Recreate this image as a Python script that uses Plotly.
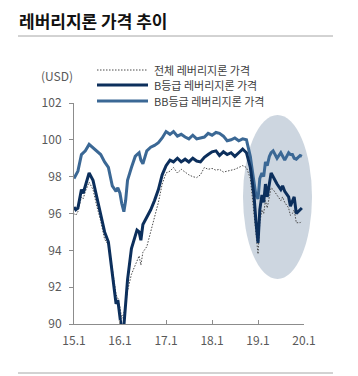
import plotly.graph_objects as go

# month offsets from 2015-01 (0.5 = mid-month)
months = [0, 0.5, 1, 2, 2.5, 3, 4, 5, 6, 7, 8, 9, 10, 11, 11.5, 12, 12.5, 13, 13.5,
          14, 15, 16, 16.5, 17, 17.5] + list(range(18, 47)) + \
         [46.5, 47, 47.5, 48, 48.5, 49, 49.5, 50, 50.5, 51, 51.5, 52, 53, 54, 54.5,
          55, 56, 56.5, 57, 57.5, 58, 59, 59.5]
months = sorted(set(months))

def to_date(m):
    y = 2015 + int(m) // 12
    mo = int(m) % 12 + 1
    d = 15 if (m - int(m)) > 0 else 1
    return f"{y}-{mo:02d}-{d:02d}"

dates = [to_date(m) for m in months]

bb_price = [97.9, 98.1, 98.3, 99.2, 99.3, 99.4, 99.75, 99.55, 99.4, 99.2, 98.8, 98.5,
            97.5, 97.2, 97.4, 97.1, 96.55, 96.1, 96.7, 97.8, 98.5, 99.1, 99.2, 99.3, 98.9,
            98.7, 99.4, 99.6, 99.7, 99.85, 100.1, 100.45, 100.3, 100.45, 100.2, 100.3,
            100.15, 100.05, 100.25, 100.05, 100.1, 100.15, 100.35, 100.25, 100.4, 100.35,
            100.2, 99.95, 100.0, 100.1, 99.95, 100.05, 100.0, 99.1,
            98.4, 97.6, 97.0, 96.8, 97.9, 98.2, 98.0, 98.8, 98.6, 99.1, 99.3, 99.4,
            99.0, 99.3, 99.1, 98.9, 99.3, 99.2, 99.2, 99.0, 98.95, 99.15, 99.1]

b_price = [96.35, 96.2, 96.3, 97.3, 97.1, 97.5, 98.2, 97.8, 96.85, 95.9, 95.0, 94.45,
           92.9, 91.1, 91.3, 90.4, 89.6, 89.9, 91.0, 92.4, 94.1, 94.8, 95.1, 95.0, 94.55,
           95.4, 95.8, 96.2, 96.7, 97.3, 98.1, 98.6, 98.9, 98.8, 99.0, 98.8,
           98.95, 98.8, 99.0, 98.85, 98.8, 99.05, 99.2, 99.35, 99.4, 99.15,
           99.35, 99.2, 99.3, 99.1, 99.3, 99.5, 99.3, 98.5,
           97.8, 96.9, 95.6, 94.4, 96.2, 97.0, 96.6, 97.6, 96.9, 97.6, 98.2, 98.0,
           97.6, 97.3, 97.5, 97.2, 96.9, 96.4, 96.7, 96.9, 96.0, 96.2, 96.3]

all_price = [96.0, 95.9, 96.1, 96.9, 96.8, 97.2, 97.7, 97.3, 96.4, 95.6, 94.6, 94.3,
             93.0, 91.6, 91.4, 90.9, 90.3, 90.6, 91.1, 91.8, 92.7, 93.2, 93.5, 93.7, 93.2,
             93.9, 94.2, 95.0, 95.8, 96.6, 97.6, 98.2, 98.3, 98.5, 98.2, 98.4,
             98.25, 98.1, 98.0, 97.95, 98.1, 98.5, 98.4, 98.45, 98.35, 98.4,
             98.25, 98.3, 98.35, 98.4, 98.5, 98.6, 98.5, 97.9,
             97.0, 96.0, 94.8, 93.8, 95.5, 96.2, 96.0, 96.7, 96.3, 97.0, 97.4, 97.3,
             97.0, 96.7, 96.9, 96.6, 96.3, 95.9, 96.0, 96.2, 95.5, 95.5, 95.6]

tick_vals = ["2015-01-01", "2016-01-01", "2017-01-01", "2018-01-01", "2019-01-01", "2020-01-01"]
tick_text = ["15.1", "16.1", "17.1", "18.1", "19.1", "20.1"]
y_ticks = [90, 92, 94, 96, 98, 100, 102]

series_names = ["전체 레버리지론 가격", "B등급 레버리지론 가격", "BB등급 레버리지론 가격"]
title_text = "레버리지론 가격 추이"
unit_text = "(USD)"

FONT = "Noto Sans CJK KR"
C_ALL = "#4a4a4a"
C_B = "#0c2f5c"
C_BB = "#3b6895"
DOT = "1.5px,1.5px"

fig = go.Figure()
fig.add_trace(go.Scatter(x=dates, y=all_price, mode="lines", name=series_names[0],
                         line=dict(color=C_ALL, width=1, dash=DOT)))
fig.add_trace(go.Scatter(x=dates, y=bb_price, mode="lines", name=series_names[2],
                         line=dict(color=C_BB, width=3)))
fig.add_trace(go.Scatter(x=dates, y=b_price, mode="lines", name=series_names[1],
                         line=dict(color=C_B, width=3)))

# page body has an 8px margin: figure sits at (8, 8) in the window
OFF = 8
L, R, T, B = 74, 304, 103, 324      # plot area in window pixels
W, H = 358 - OFF, 376 - OFF

def px(xp):
    return (xp - L) / (R - L)
def py(yp):
    return (B - yp) / (B - T)

shapes = [
    dict(type="circle", xref="paper", yref="paper", x0=px(243), x1=px(312),
         y0=py(279), y1=py(115), fillcolor="#cdd6e0", line=dict(width=0), layer="below"),
    dict(type="line", xref="paper", yref="paper", x0=px(18), x1=px(333),
         y0=py(36), y1=py(36), line=dict(color="#a6a6a6", width=1)),
    dict(type="line", xref="paper", yref="paper", x0=px(18), x1=px(333),
         y0=py(373), y1=py(373), line=dict(color="#a6a6a6", width=1)),
]
legend_y = [70, 85, 101]
legend_styles = [dict(color=C_ALL, width=1, dash=DOT),
                 dict(color=C_B, width=3),
                 dict(color=C_BB, width=3)]
annotations = [
    dict(text=title_text, xref="paper", yref="paper", x=px(17), y=py(20.5),
         xanchor="left", yanchor="middle", showarrow=False,
         font=dict(family=FONT, size=17, color="#111111", weight="bold")),
    dict(text=unit_text, xref="paper", yref="paper", x=px(57), y=py(75),
         xanchor="center", yanchor="middle", showarrow=False,
         font=dict(family=FONT, size=12, color="#595959")),
]
for yy, st, nm in zip(legend_y, legend_styles, series_names):
    shapes.append(dict(type="line", xref="paper", yref="paper", x0=px(97), x1=px(148),
                       y0=py(yy), y1=py(yy), line=st))
    annotations.append(dict(text=nm, xref="paper", yref="paper", x=px(152), y=py(yy),
                            xanchor="left", yanchor="middle", showarrow=False,
                            font=dict(family=FONT, size=11, color="#404040")))

fig.update_layout(
    width=W, height=H,
    margin=dict(l=L - OFF, r=W - (R - OFF), t=T - OFF, b=H - (B - OFF), pad=0),
    paper_bgcolor="white", plot_bgcolor="white",
    showlegend=False,
    shapes=shapes, annotations=annotations,
    font=dict(family=FONT, size=11, color="#595959"),
    xaxis=dict(type="date", range=["2015-01-01", "2020-01-01"],
               tickvals=tick_vals, ticktext=tick_text,
               showgrid=False, zeroline=False, showline=True, linecolor="#8c8c8c",
               linewidth=1, ticks="inside", ticklen=4, tickcolor="#8c8c8c",
               ticklabelstandoff=6,
               tickfont=dict(family=FONT, size=12, color="#595959")),
    yaxis=dict(range=[90, 102], tickvals=y_ticks,
               showgrid=False, zeroline=False, showline=True, linecolor="#8c8c8c",
               linewidth=1, ticks="outside", ticklen=4, tickcolor="#8c8c8c",
               ticklabelstandoff=5,
               tickfont=dict(family=FONT, size=12, color="#595959")),
)

fig.write_html("out.html")
